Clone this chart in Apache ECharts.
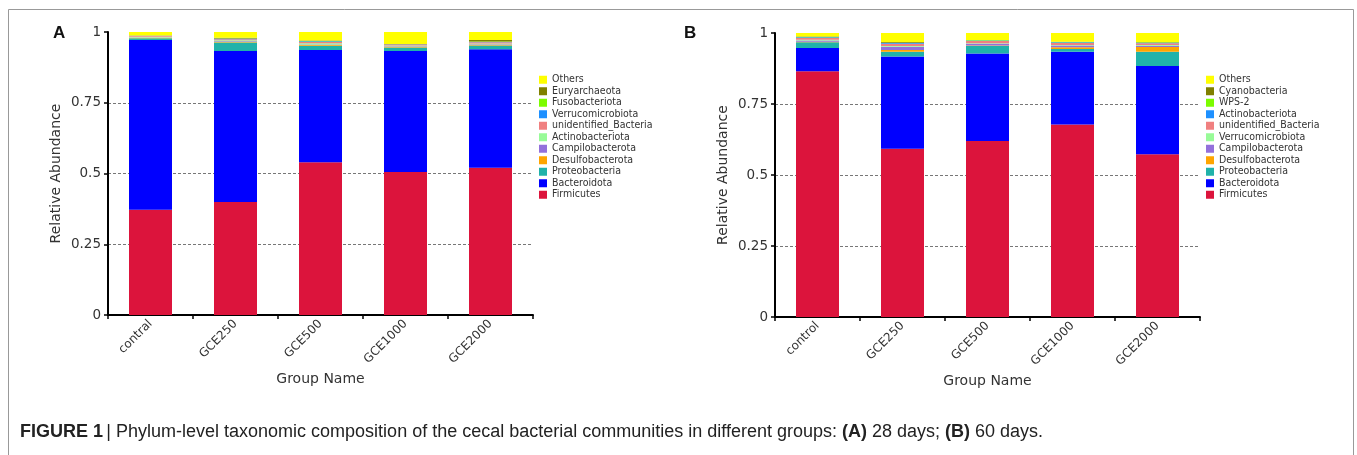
<!DOCTYPE html>
<html>
<head>
<meta charset="utf-8">
<script src="https://cdn.jsdelivr.net/npm/echarts@6/dist/echarts.min.js"></script>
<style>
html,body{margin:0;padding:0;background:#fff;}
#chart{width:1357px;height:455px;}
</style>
</head>
<body>
<div id="chart"></div>
<script>
// ---------- DATA ----------
const groupsA = ['contral', 'GCE250', 'GCE500', 'GCE1000', 'GCE2000'];
const groupsB = ['control', 'GCE250', 'GCE500', 'GCE1000', 'GCE2000'];
const yTicks = [0, 0.25, 0.5, 0.75, 1];

// Panel A (28 days), stack order bottom -> top
const taxaA = ['Firmicutes', 'Bacteroidota', 'Proteobacteria', 'Desulfobacterota', 'Campilobacterota',
  'Actinobacteriota', 'unidentified_Bacteria', 'Verrucomicrobiota', 'Fusobacteriota', 'Euryarchaeota', 'Others'];
const A_Firmicutes = [0.372, 0.399, 0.540, 0.505, 0.520];
const A_Bacteroidota = [0.600, 0.534, 0.396, 0.428, 0.419];
const A_Proteobacteria = [0.006, 0.030, 0.015, 0.012, 0.013];
const A_Desulfobacterota = [0.002, 0.002, 0.003, 0.003, 0.003];
const A_Campilobacterota = [0.001, 0.002, 0.002, 0.002, 0.002];
const A_Actinobacteriota = [0.002, 0.004, 0.004, 0.002, 0.002];
const A_unidentified = [0.003, 0.003, 0.005, 0.004, 0.005];
const A_Verrucomicrobiota = [0.001, 0.002, 0.002, 0.001, 0.001];
const A_Fusobacteriota = [0.000, 0.001, 0.001, 0.000, 0.001];
const A_Euryarchaeota = [0.001, 0.003, 0.002, 0.001, 0.006];
const A_Others = [0.012, 0.020, 0.030, 0.042, 0.028];

// Panel B (60 days), stack order bottom -> top
const taxaB = ['Firmicutes', 'Bacteroidota', 'Proteobacteria', 'Desulfobacterota', 'Campilobacterota',
  'Verrucomicrobiota', 'unidentified_Bacteria', 'Actinobacteriota', 'WPS-2', 'Cyanobacteria', 'Others'];
const B_Firmicutes = [0.865, 0.592, 0.620, 0.678, 0.573];
const B_Bacteroidota = [0.082, 0.325, 0.308, 0.256, 0.311];
const B_Proteobacteria = [0.020, 0.017, 0.026, 0.010, 0.050];
const B_Desulfobacterota = [0.002, 0.006, 0.002, 0.006, 0.017];
const B_Campilobacterota = [0.005, 0.012, 0.006, 0.006, 0.004];
const B_Verrucomicrobiota = [0.002, 0.002, 0.002, 0.002, 0.003];
const B_unidentified = [0.006, 0.008, 0.008, 0.007, 0.006];
const B_Actinobacteriota = [0.003, 0.003, 0.002, 0.002, 0.002];
const B_WPS2 = [0.001, 0.001, 0.001, 0.001, 0.001];
const B_Cyanobacteria = [0.002, 0.002, 0.000, 0.001, 0.001];
const B_Others = [0.012, 0.032, 0.025, 0.031, 0.032];

const valuesA = [A_Firmicutes, A_Bacteroidota, A_Proteobacteria, A_Desulfobacterota, A_Campilobacterota,
  A_Actinobacteriota, A_unidentified, A_Verrucomicrobiota, A_Fusobacteriota, A_Euryarchaeota, A_Others];
const valuesB = [B_Firmicutes, B_Bacteroidota, B_Proteobacteria, B_Desulfobacterota, B_Campilobacterota,
  B_Verrucomicrobiota, B_unidentified, B_Actinobacteriota, B_WPS2, B_Cyanobacteria, B_Others];

// ---------- STYLE ----------
const colorsA = ['#DC143C', '#0000FF', '#20B2AA', '#FFA500', '#9370DB', '#98FB98', '#F08080', '#1E90FF', '#7CFC00', '#808000', '#FFFF00'];
const colorsB = ['#DC143C', '#0000FF', '#20B2AA', '#FFA500', '#9370DB', '#98FB98', '#F08080', '#1E90FF', '#7CFC00', '#808000', '#FFFF00'];
const FONT = 'DejaVu Sans';

const chart = echarts.init(document.getElementById('chart'), null, {renderer: 'canvas'});

function makeSeries(taxa, values, colors, idx, stack) {
  return taxa.map((t, i) => ({
    name: t,
    type: 'bar',
    stack: stack,
    xAxisIndex: idx,
    yAxisIndex: idx,
    barWidth: 43,
    data: values[i],
    itemStyle: {color: colors[i]},
    emphasis: {disabled: true}
  }));
}

function legendData(taxa, colors) {
  const arr = taxa.map((t, i) => ({name: t, itemStyle: {color: colors[i]}}));
  return arr.reverse();
}

function xAxisCfg(idx, cats) {
  return {
    type: 'category', gridIndex: idx, data: cats,
    name: 'Group Name', nameLocation: 'middle', nameGap: 53,
    nameTextStyle: {fontFamily: FONT, fontSize: 14, color: '#333'},
    axisLine: {lineStyle: {color: '#000', width: 2}},
    axisTick: {show: true, length: 4, lineStyle: {color: '#000', width: 1.5}},
    axisLabel: {rotate: 45, fontFamily: FONT, fontSize: 12, color: '#333', margin: 7}
  };
}

function yAxisCfg(idx) {
  return {
    type: 'value', gridIndex: idx, min: yTicks[0], max: yTicks[yTicks.length - 1], interval: 0.25,
    name: 'Relative Abundance', nameLocation: 'middle', nameGap: 45, nameRotate: 90,
    nameTextStyle: {fontFamily: FONT, fontSize: 14, color: '#333'},
    axisLine: {show: true, lineStyle: {color: '#000', width: 2}},
    axisTick: {show: true, length: 4, lineStyle: {color: '#000', width: 1.5}},
    axisLabel: {fontFamily: FONT, fontSize: 13.5, color: '#333', margin: 7,
      formatter: v => String(v)},
    splitLine: {show: true, showMinLine: false, showMaxLine: false,
      lineStyle: {color: '#777', type: [3, 2], width: 1}}
  };
}

const legendText = {fontFamily: '"DejaVu Sans Condensed", "DejaVu Sans"', fontSize: 10.5, color: '#333', lineHeight: 11.5};

const option = {
  animation: false,
  backgroundColor: '#fff',
  grid: [
    {left: 108, top: 32, width: 425, height: 283},
    {left: 775, top: 33, width: 425, height: 284}
  ],
  xAxis: [xAxisCfg(0, groupsA), xAxisCfg(1, groupsB)],
  yAxis: [yAxisCfg(0), yAxisCfg(1)],
  legend: [
    {data: legendData(taxaA, colorsA), orient: 'vertical', left: 539, top: 74,
     icon: 'rect', itemWidth: 8, itemHeight: 8, itemGap: 0, selectedMode: false,
     textStyle: legendText, padding: 0},
    {data: legendData(taxaB, colorsB), orient: 'vertical', left: 1206, top: 74,
     icon: 'rect', itemWidth: 8, itemHeight: 8, itemGap: 0, selectedMode: false,
     textStyle: legendText, padding: 0}
  ],
  series: [].concat(makeSeries(taxaA, valuesA, colorsA, 0, 'A'), makeSeries(taxaB, valuesB, colorsB, 1, 'B')),
  graphic: [
    {type: 'rect', left: 6, top: 7, shape: {width: 1345, height: 460}, silent: true,
     style: {fill: 'none', stroke: '#999', lineWidth: 1}},
    {type: 'text', left: 53, top: 25, silent: true,
     style: {text: 'A', font: 'bold 17px "Liberation Sans", Arial', fill: '#111'}},
    {type: 'text', left: 684, top: 25, silent: true,
     style: {text: 'B', font: 'bold 17px "Liberation Sans", Arial', fill: '#111'}},
    {type: 'text', left: 20, top: 423, silent: true,
     style: {
       text: '{b|FIGURE 1} {n|| Phylum-level taxonomic composition of the cecal bacterial communities in different groups: }{b|(A)}{n| 28 days; }{b|(B)}{n| 60 days.}',
       rich: {
         b: {font: 'bold 18px "Liberation Sans", Arial', fill: '#222'},
         n: {font: '18px "Liberation Sans", Arial', fill: '#222'}
       }
     }}
  ]
};
chart.setOption(option);
</script>
</body>
</html>
